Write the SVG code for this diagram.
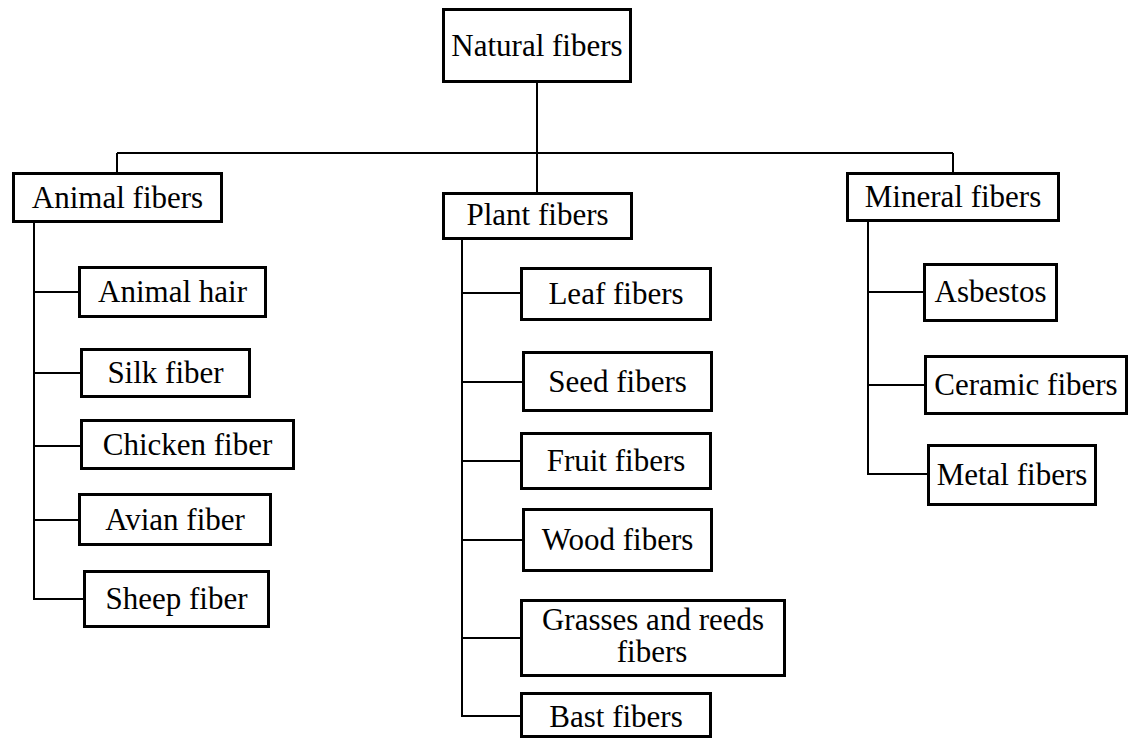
<svg xmlns="http://www.w3.org/2000/svg" width="1130" height="740" viewBox="0 0 1130 740">
<style>
rect.n{fill:#fff;stroke:#000;stroke-width:3}
text{font-family:"Liberation Serif","Times New Roman",serif;font-size:31px;fill:#000;text-anchor:middle}
.c line{stroke:#000;stroke-width:2}
</style>
<rect width="1130" height="740" fill="#fff"/>
<g class="c" id="connectors">
<line x1="537" y1="83" x2="537" y2="153"/>
<line x1="117" y1="153" x2="953" y2="153"/>
<line x1="117" y1="153" x2="117" y2="172"/>
<line x1="537" y1="153" x2="537" y2="192"/>
<line x1="953" y1="153" x2="953" y2="172"/>
<line x1="34" y1="223" x2="34" y2="600"/>
<line x1="33" y1="292" x2="78" y2="292"/>
<line x1="33" y1="373" x2="80" y2="373"/>
<line x1="33" y1="446" x2="80" y2="446"/>
<line x1="33" y1="520" x2="78" y2="520"/>
<line x1="33" y1="599" x2="83" y2="599"/>
<line x1="462" y1="240" x2="462" y2="717"/>
<line x1="461" y1="293" x2="520" y2="293"/>
<line x1="461" y1="382" x2="522" y2="382"/>
<line x1="461" y1="461" x2="520" y2="461"/>
<line x1="461" y1="540" x2="522" y2="540"/>
<line x1="461" y1="638" x2="520" y2="638"/>
<line x1="461" y1="716" x2="520" y2="716"/>
<line x1="868" y1="222" x2="868" y2="475"/>
<line x1="867" y1="292" x2="923" y2="292"/>
<line x1="867" y1="385" x2="924" y2="385"/>
<line x1="867" y1="474" x2="927" y2="474"/>
</g>
<g id="natural"><rect class="n" x="443.5" y="9.5" width="187" height="72"/><text x="537" y="56">Natural fibers</text></g>
<g id="animal"><rect class="n" x="13.5" y="173.5" width="208" height="48"/><text x="117.5" y="208">Animal fibers</text></g>
<g id="plant"><rect class="n" x="443.5" y="193.5" width="188" height="45"/><text x="537.5" y="225">Plant fibers</text></g>
<g id="mineral"><rect class="n" x="847.5" y="173.5" width="211" height="47"/><text x="953" y="207">Mineral fibers</text></g>
<g id="animal-hair"><rect class="n" x="79.5" y="267.5" width="186" height="49"/><text x="172.5" y="302">Animal hair</text></g>
<g id="silk"><rect class="n" x="81.5" y="349.5" width="168" height="47"/><text x="165.5" y="383">Silk fiber</text></g>
<g id="chicken"><rect class="n" x="81.5" y="420.5" width="212" height="48"/><text x="187.5" y="455">Chicken fiber</text></g>
<g id="avian"><rect class="n" x="79.5" y="494.5" width="191" height="50"/><text x="175" y="530">Avian fiber</text></g>
<g id="sheep"><rect class="n" x="84.5" y="571.5" width="184" height="55"/><text x="176.5" y="609">Sheep fiber</text></g>
<g id="leaf"><rect class="n" x="521.5" y="268.5" width="189" height="51"/><text x="616" y="304">Leaf fibers</text></g>
<g id="seed"><rect class="n" x="523.5" y="352.5" width="188" height="58"/><text x="617.5" y="392">Seed fibers</text></g>
<g id="fruit"><rect class="n" x="521.5" y="433.5" width="189" height="55"/><text x="616" y="471">Fruit fibers</text></g>
<g id="wood"><rect class="n" x="523.5" y="509.5" width="188" height="61"/><text x="617.5" y="550">Wood fibers</text></g>
<g id="grasses"><rect class="n" x="521.5" y="600.5" width="263" height="75"/><text x="653" y="630">Grasses and reeds</text><text x="652" y="662">fibers</text></g>
<g id="bast"><rect class="n" x="521.5" y="693.5" width="189" height="43"/><text x="616" y="727">Bast fibers</text></g>
<g id="asbestos"><rect class="n" x="924.5" y="264.5" width="132" height="56"/><text x="990.5" y="302">Asbestos</text></g>
<g id="ceramic"><rect class="n" x="925.5" y="356.5" width="201" height="57"/><text x="1026" y="395">Ceramic fibers</text></g>
<g id="metal"><rect class="n" x="928.5" y="445.5" width="167" height="59"/><text x="1012" y="485">Metal fibers</text></g>
</svg>
